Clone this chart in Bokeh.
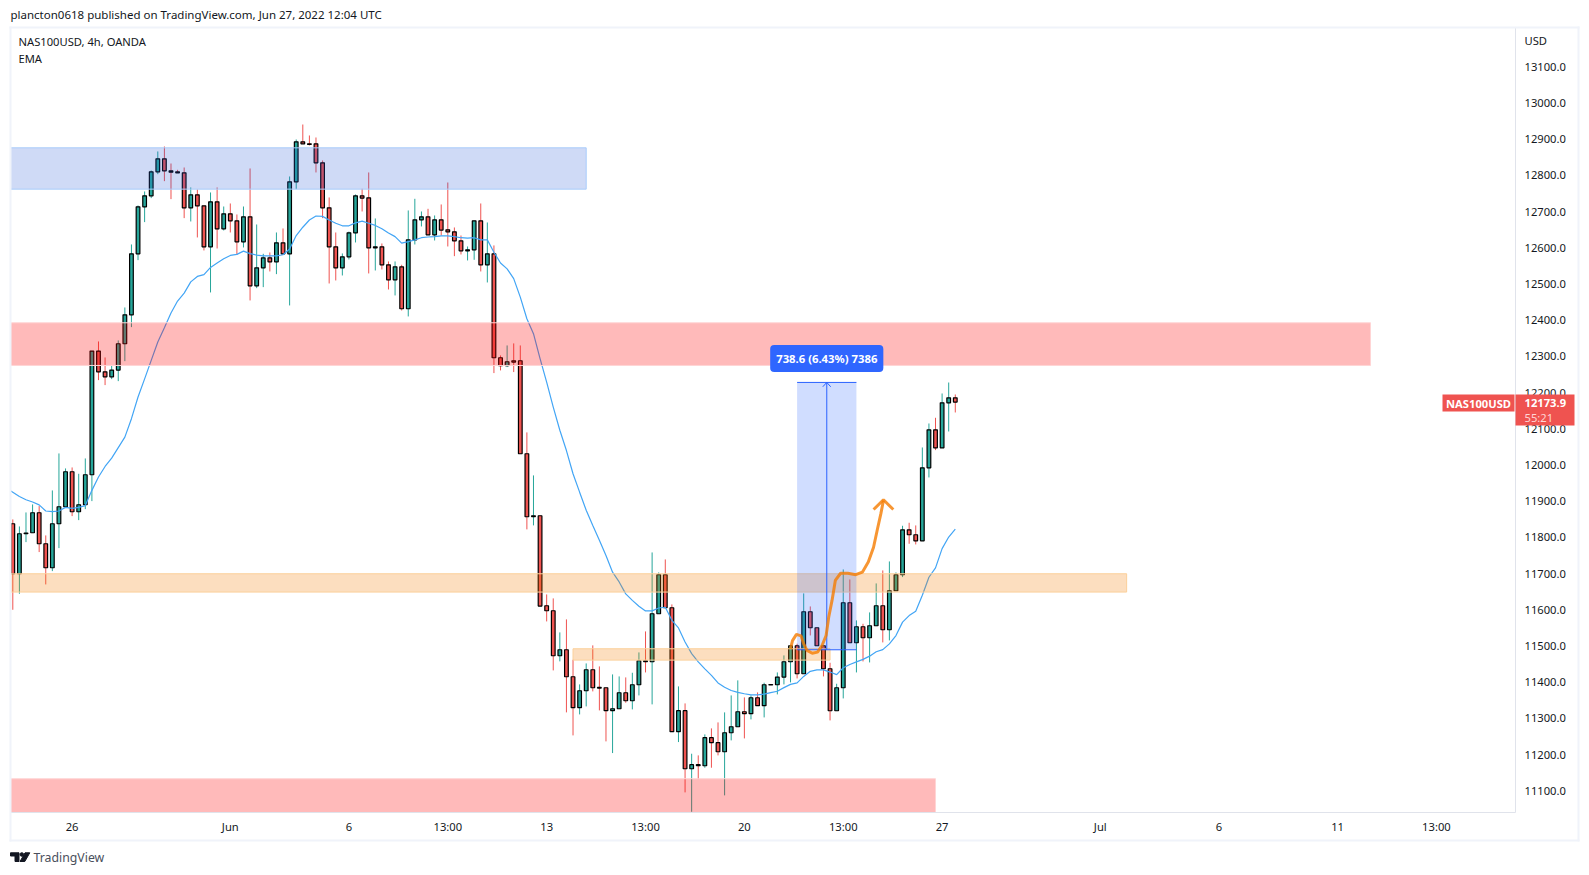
from bokeh.core.properties import value
from bokeh.embed import file_html
from bokeh.layouts import column
from bokeh.models import FixedTicker, Label, LinearAxis, NumeralTickFormatter, Range1d
from bokeh.plotting import figure
from bokeh.resources import INLINE

# NAS100USD 4h candles
opens = [
    11837.7, 11699.6, 11810.1, 11812.9, 11868.1, 11782.5, 11716.2, 11837.7, 11884.7, 11981.4,
    11870.9, 11890.2, 11973.1, 12314.7, 12257.6, 12243.8, 12262.2, 12335.0, 12415.1, 12583.6,
    12713.4, 12743.8, 12810.1, 12846.0, 12812.9, 12810.0, 12807.3, 12710.7, 12746.6, 12716.2,
    12602.9, 12727.2, 12652.6, 12694.0, 12674.7, 12616.7, 12685.8, 12495.2, 12544.9, 12572.5,
    12561.5, 12613.9, 12583.6, 12782.5, 12893.0, 12887.4, 12887.4, 12834.9, 12710.7, 12602.9,
    12544.9, 12575.3, 12641.6, 12743.8, 12738.3, 12600.2, 12602.9, 12553.2, 12511.7, 12547.7,
    12431.7, 12622.2, 12677.5, 12685.8, 12636.1, 12677.5, 12649.9, 12644.4, 12619.5, 12591.9,
    12594.6, 12674.7, 12553.2, 12583.6, 12296.4, 12274.3, 12288.1, 12288.1, 12031.2, 11857.1,
    11859.9, 11611.2, 11597.4, 11473.1, 11489.7, 11415.1, 11329.5, 11376.4, 11434.4, 11385.6,
    11384.7, 11321.2, 11326.7, 11370.9, 11348.8, 11393.0, 11459.3, 11456.5, 11589.1, 11696.9,
    11605.7, 11263.2, 11321.2, 11160.9, 11172.0, 11169.2, 11246.6, 11232.8, 11207.9, 11260.4,
    11276.9, 11318.4, 11312.9, 11357.1, 11335.0, 11392.5, 11393.0, 11414.1, 11456.5, 11500.7,
    11423.3, 11594.6, 11550.4, 11500.7, 11437.2, 11321.1, 11384.7, 11619.5, 11509.0, 11553.2,
    11522.8, 11555.9, 11611.2, 11544.9, 11652.6, 11696.8, 11821.1, 11807.3, 11790.7, 11992.4,
    12097.3, 12047.6, 12171.9, 12185.7,
]
closes = [
    11699.6, 11810.1, 11812.0, 11868.1, 11782.5, 11716.2, 11837.7, 11884.7, 11981.4, 11870.9,
    11890.2, 11973.1, 12314.7, 12257.6, 12243.8, 12262.2, 12335.0, 12415.1, 12583.6, 12713.4,
    12743.8, 12810.1, 12846.0, 12812.9, 12809.2, 12807.3, 12710.7, 12746.6, 12716.2, 12602.9,
    12727.2, 12652.6, 12694.0, 12674.7, 12616.7, 12685.8, 12495.2, 12544.9, 12572.5, 12561.5,
    12613.9, 12583.6, 12782.5, 12893.0, 12887.4, 12885.6, 12834.9, 12710.7, 12602.9, 12544.9,
    12575.3, 12641.6, 12743.8, 12737.4, 12600.2, 12602.9, 12553.2, 12511.7, 12547.7, 12431.7,
    12622.2, 12677.5, 12685.8, 12636.1, 12677.5, 12649.0, 12644.4, 12619.5, 12591.9, 12594.6,
    12674.7, 12553.2, 12583.6, 12296.4, 12274.3, 12285.3, 12284.4, 12031.2, 11857.1, 11859.9,
    11610.3, 11597.4, 11473.1, 11489.7, 11415.1, 11329.5, 11376.4, 11434.4, 11384.7, 11383.8,
    11321.2, 11326.7, 11370.9, 11348.8, 11393.0, 11459.3, 11456.5, 11589.1, 11696.9, 11605.7,
    11263.2, 11321.2, 11160.9, 11172.0, 11169.2, 11246.6, 11232.8, 11207.9, 11260.4, 11276.9,
    11318.4, 11312.9, 11357.1, 11335.0, 11393.0, 11393.5, 11414.1, 11456.5, 11500.7, 11423.3,
    11594.6, 11550.4, 11500.7, 11437.2, 11321.1, 11384.7, 11619.5, 11509.0, 11553.2, 11522.8,
    11555.9, 11611.2, 11544.9, 11652.6, 11696.8, 11821.1, 11807.3, 11790.7, 11992.4, 12097.3,
    12047.6, 12171.9, 12185.7, 12173.9,
]
highs = [
    11849.7, 11830.3, 11869.0, 11891.1, 11886.5, 11805.5, 11929.8, 12032.0, 11990.6, 11993.3,
    11975.8, 12018.2, 12314.7, 12341.4, 12297.2, 12274.2, 12344.2, 12435.3, 12609.4, 12717.1,
    12755.8, 12813.8, 12866.3, 12880.1, 12833.1, 12815.6, 12822.0, 12766.8, 12761.3, 12716.2,
    12753.0, 12766.8, 12714.3, 12722.6, 12692.2, 12714.3, 12819.3, 12664.6, 12583.6, 12587.3,
    12642.5, 12653.6, 12797.2, 12899.4, 12940.8, 12910.5, 12904.9, 12841.4, 12739.2, 12642.5,
    12584.5, 12645.0, 12747.5, 12763.1, 12808.3, 12681.2, 12612.1, 12562.4, 12562.4, 12553.2,
    12703.3, 12735.5, 12700.5, 12707.9, 12689.5, 12719.9, 12780.6, 12656.3, 12634.2, 12603.8,
    12674.7, 12722.6, 12670.1, 12606.7, 12302.8, 12330.4, 12336.0, 12330.4, 12090.1, 11971.3,
    11859.9, 11642.5, 11631.5, 11537.6, 11573.5, 11462.0, 11393.9, 11451.9, 11501.7, 11443.6,
    11384.7, 11421.5, 11416.0, 11413.2, 11426.1, 11482.3, 11540.3, 11758.5, 11703.3, 11739.2,
    11614.9, 11388.4, 11341.4, 11202.4, 11197.8, 11255.8, 11272.4, 11288.9, 11316.6, 11363.5,
    11405.0, 11358.0, 11363.5, 11371.8, 11398.5, 11393.5, 11427.0, 11474.0, 11500.7, 11506.2,
    11645.3, 11609.3, 11550.4, 11500.7, 11453.7, 11395.7, 11711.5, 11683.9, 11570.7, 11561.4,
    11592.8, 11672.9, 11708.8, 11733.6, 11703.3, 11832.2, 11840.5, 11833.1, 12048.5, 12114.8,
    12130.5, 12197.7, 12228.0, 12194.9,
]
lows = [
    11600.1, 11644.3, 11787.0, 11812.0, 11759.5, 11670.1, 11706.9, 11770.5, 11884.7, 11858.9,
    11847.8, 11878.2, 11900.3, 12234.6, 12220.8, 12237.3, 12231.8, 12287.0, 12381.0, 12566.1,
    12671.1, 12737.4, 12803.6, 12784.3, 12734.6, 12807.0, 12682.1, 12672.9, 12628.7, 12592.8,
    12476.8, 12598.3, 12648.0, 12642.5, 12580.8, 12601.1, 12454.7, 12488.7, 12491.5, 12534.8,
    12527.4, 12580.8, 12440.9, 12762.2, 12887.0, 12882.8, 12808.3, 12682.1, 12501.6, 12509.9,
    12523.7, 12567.9, 12614.9, 12700.5, 12529.3, 12537.5, 12540.3, 12485.0, 12468.5, 12427.0,
    12410.5, 12609.4, 12659.1, 12636.0, 12620.4, 12634.2, 12603.8, 12577.1, 12581.7, 12565.2,
    12567.0, 12534.8, 12504.4, 12254.0, 12261.4, 12270.6, 12256.8, 12031.0, 11822.2, 11833.2,
    11610.0, 11567.9, 11432.6, 11457.5, 11316.6, 11253.0, 11311.0, 11333.1, 11374.6, 11322.1,
    11236.5, 11204.2, 11326.0, 11343.3, 11324.9, 11363.5, 11427.0, 11338.7, 11589.0, 11605.0,
    11263.0, 11234.6, 11095.6, 11042.0, 11132.4, 11163.7, 11163.7, 11197.8, 11087.3, 11239.2,
    11276.0, 11244.7, 11297.2, 11335.0, 11302.7, 11392.5, 11366.3, 11393.9, 11399.4, 11410.4,
    11423.0, 11529.2, 11500.0, 11416.0, 11294.4, 11321.0, 11355.2, 11509.0, 11427.0, 11457.4,
    11454.6, 11555.0, 11509.9, 11515.4, 11652.0, 11690.4, 11782.4, 11780.6, 11790.7, 11965.7,
    12041.2, 12047.0, 12092.7, 12145.2,
]
ema = [
    11925, 11913, 11904, 11898, 11890, 11873, 11871, 11873, 11883, 11880,
    11883, 11888, 11930, 11967, 11996, 12019, 12048, 12077, 12128, 12188,
    12238, 12289, 12340, 12379, 12420, 12453, 12475, 12506, 12521, 12526,
    12546, 12558, 12570, 12579, 12582, 12591, 12584, 12580, 12578, 12578,
    12578, 12581, 12597, 12634, 12657, 12677, 12688, 12687, 12677, 12668,
    12661, 12661, 12669, 12674, 12668, 12662, 12653, 12641, 12631, 12613,
    12617, 12622, 12628, 12630, 12631, 12633, 12633, 12631, 12628, 12627,
    12628, 12622, 12622, 12588, 12558, 12542, 12515, 12464, 12404, 12363,
    12294, 12229, 12160, 12096, 12040, 11976, 11925, 11875, 11833, 11792,
    11750, 11704, 11677, 11644, 11626, 11610, 11597, 11597, 11605, 11607,
    11571, 11550, 11511, 11479, 11456, 11437, 11419, 11398, 11386, 11377,
    11372, 11368, 11365, 11365, 11367, 11371, 11375, 11385, 11394, 11398,
    11416, 11430, 11434, 11434, 11428, 11421, 11440, 11449, 11456, 11463,
    11472, 11484, 11490, 11506, 11529, 11566, 11584, 11596, 11640, 11690,
    11716, 11769, 11801, 11823,
]
# the line comes in from the bar before the first visible candle
ema_before = 11936

# free-hand orange brush and its arrow head
brush_x = [118.0, 118.3, 118.9, 119.6, 120.0, 120.5, 121.3, 122.1, 122.8, 123.4, 123.8, 124.3,
           124.8, 125.6, 126.7, 127.9, 128.9, 129.8, 130.6, 131.2, 131.7, 132.1]
brush_y = [11492, 11515, 11532, 11528, 11506, 11488, 11480, 11483, 11502, 11529, 11580, 11626,
           11681, 11701, 11701, 11697, 11704, 11732, 11773, 11824, 11865, 11902]
head_x = [130.6, 132.1, 133.6]
head_y = [11877, 11904, 11877]

# zones: left bar, right bar, top price, bottom price
blue_zone = (-5, 87, 12876.4, 12762.2)
red_zone = (-5, 206, 12393.0, 12275.1)
red_low_zone = (-5, 140, 11133.3, 11000.0)
orange_zone = (-5, 169, 11699.6, 11649.0)
orange_small_zone = (85, 124, 11492.4, 11461.0)
position = (119, 128, 12228.2, 11489.6)

price_ticks = [11100 + 100 * i for i in range(21)]
time_ticks = [9, 33, 51, 66, 81, 96, 111, 126, 141, 165, 183, 201, 216]
time_labels = ["26", "Jun", "6", "13:00", "13", "13:00", "20", "13:00", "27", "Jul", "6", "11", "13:00"]

FONT = "Noto Sans"
GREEN = "#26a69a"
RED = "#ef5350"
WIDTH, HEIGHT = 1582, 866

idx = list(range(len(opens)))
colors = [GREEN if c >= o else RED for o, c in zip(opens, closes)]

p = figure(
    width=WIDTH, height=HEIGHT, frame_width=1505, frame_height=785, frame_align=False,
    x_range=Range1d(-0.35, 228.0), y_range=Range1d(11040.0, 13208.8),
    min_border_left=10, min_border_right=67, min_border_top=27, min_border_bottom=54,
    toolbar_location=None, output_backend="svg", y_axis_location=None,
    background_fill_color="white", border_fill_color="white",
)
p.outline_line_color = None
p.grid.visible = False

p.xaxis.ticker = FixedTicker(ticks=time_ticks)
p.xaxis.major_label_overrides = dict(zip(time_ticks, time_labels))
p.xaxis.axis_line_color = "#e0e3eb"
p.xaxis.major_tick_line_color = None
p.xaxis.minor_tick_line_color = None
p.xaxis.major_tick_out = 0
p.xaxis.major_label_standoff = 6
p.xaxis.major_label_text_font = FONT
p.xaxis.major_label_text_font_size = "11.2px"
p.xaxis.major_label_text_color = "#131722"

price_axis = LinearAxis(ticker=FixedTicker(ticks=price_ticks), formatter=NumeralTickFormatter(format="0.0"))
price_axis.axis_line_color = "#e0e3eb"
price_axis.major_tick_line_color = None
price_axis.minor_tick_line_color = None
price_axis.major_tick_out = 0
price_axis.major_label_standoff = 9
price_axis.major_label_text_font = FONT
price_axis.major_label_text_font_size = "11.2px"
price_axis.major_label_text_color = "#131722"
p.add_layout(price_axis, "right")

p.segment(idx, highs, idx, lows, color=colors, line_width=1)
p.vbar(x=idx, width=0.56, bottom=opens, top=closes, fill_color=colors, line_color="#000000", line_width=1.2)
p.line([-1] + idx, [ema_before] + ema, color="#42a5f5", line_width=1.2)


def zone(box, fill, alpha, edge):
    left, right, top, bottom = box
    p.quad(left=left, right=right, top=top, bottom=bottom, fill_color=fill, fill_alpha=alpha,
           line_color=edge, line_width=1)


zone(blue_zone, "#2457d6", 0.22, "#a9ccfb")
zone(red_zone, "#ff0000", 0.27, "#ffd5d5")
zone(red_low_zone, "#ff0000", 0.27, "#ffd5d5")
zone(orange_zone, "#f57c00", 0.25, "#fbd09a")
zone(orange_small_zone, "#f57c00", 0.25, "#fbd09a")

# price range tool
left, right, top, bottom = position
mid = (left + right) / 2
p.quad(left=left, right=right, top=top, bottom=bottom, fill_color="#2962ff", fill_alpha=0.22, line_color=None)
p.segment([left, left], [top, bottom], [right, right], [top, bottom], color="#2962ff", line_width=1)
p.segment([mid], [bottom], [mid], [top], color="#2962ff", line_width=1)
p.segment([mid, mid], [top, top], [mid - 0.6, mid + 0.6], [top - 12, top - 12], color="#2962ff", line_width=1)

p.line(brush_x, brush_y, color="#f57c00", line_width=3, line_alpha=0.8)
p.line(head_x, head_y, color="#f57c00", line_width=3, line_alpha=0.8)

p.add_layout(Label(x=mid, y=top, x_offset=0, y_offset=24, text="738.6 (6.43%) 7386",
                   text_align="center", text_baseline="middle", text_color="white",
                   text_font=FONT, text_font_size="11.3px", text_font_style="bold",
                   background_fill_color="#2f66ff", padding=6, border_radius=4))

# transparent sheet in page pixels for what sits outside the plot frame
sheet = figure(
    width=WIDTH, height=HEIGHT, frame_align=False, x_range=Range1d(0, WIDTH), y_range=Range1d(HEIGHT, 0),
    min_border=0, toolbar_location=None, output_backend="svg", x_axis_location=None, y_axis_location=None,
    background_fill_color=None, border_fill_color=None, margin=(-HEIGHT, 0, 0, 0),
)
sheet.outline_line_color = None
sheet.grid.visible = False


def block(l, r, t, b, color):
    sheet.quad(left=l, right=r, top=t, bottom=b, fill_color=color, line_color=None)


def chrome(x, y, text, size="11.2px", color="#131722", style="normal", align="left"):
    sheet.text([x], [y], text=[text], text_font=value(FONT), text_font_size=size, text_color=color,
               text_font_style=style, text_align=align, text_baseline="middle")


# outer frame of the published snapshot
block(9, 11, 26, 841, "#f0f3fa")
block(1577, 1579, 26, 841, "#f0f3fa")
block(9, 1579, 26, 28, "#f0f3fa")
block(9, 1579, 839, 841, "#f0f3fa")

# last price tags
block(1442, 1514, 394, 411, RED)
block(1515, 1574, 394, 425, RED)
chrome(1478, 402.5, "NAS100USD", color="white", align="center", style="bold")
chrome(1524, 402.5, "12173.9", color="white", style="bold")
chrome(1524, 417, "55:21", color="#ffd5d5")

chrome(10, 14, "plancton0618 published on TradingView.com, Jun 27, 2022 12:04 UTC", size="11.5px")
chrome(18, 41, "NAS100USD, 4h, OANDA")
chrome(18, 58, "EMA")
chrome(1524, 40, "USD")

# TradingView logo and word
sheet.patch([10, 18.5, 18.5, 14.5, 14.5, 10], [852.3, 852.3, 861, 861, 855.5, 855.5], color="#131722")
sheet.circle([21.3], [854], radius=1.8, color="#131722")
sheet.patch([24.5, 29.3, 24.3, 19.5], [852.3, 852.3, 861, 861], color="#131722")
chrome(33, 856.5, "TradingView", size="12.3px", color="#4a4f5c")

open("out.html", "w").write(file_html(column(p, sheet, spacing=0), INLINE))
